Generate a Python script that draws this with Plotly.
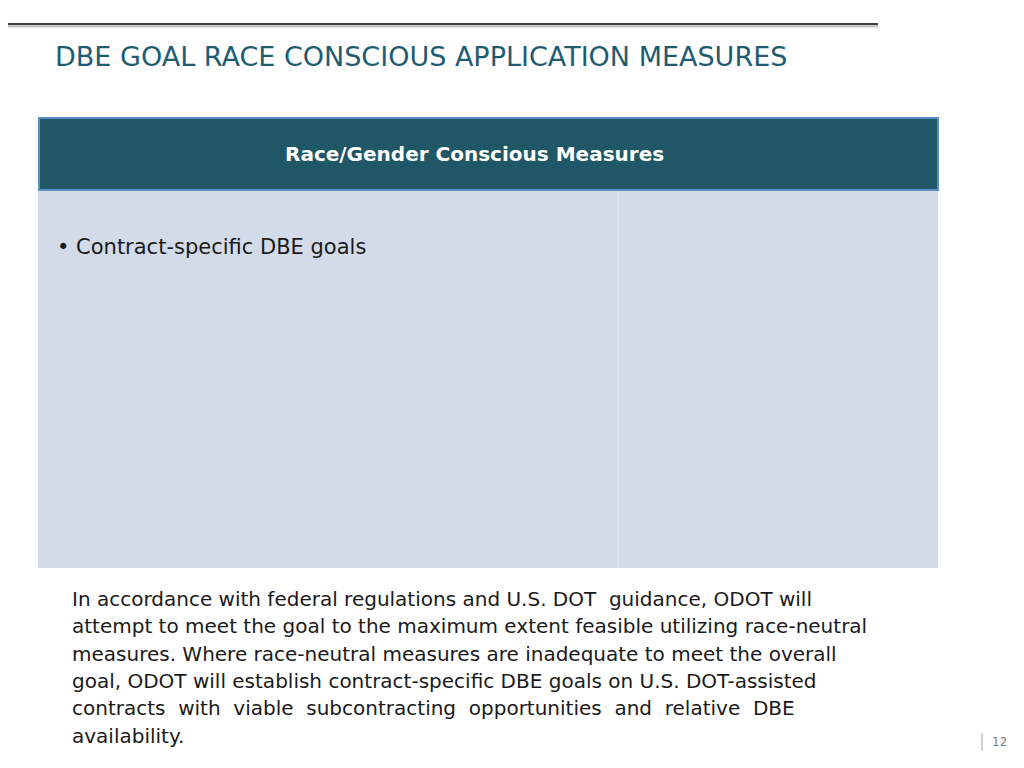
import plotly.graph_objects as go

# slide content
title = "DBE GOAL RACE CONSCIOUS APPLICATION MEASURES"
header = "Race/Gender Conscious Measures"
bullets = ["Contract-specific DBE goals"]
paragraph_lines = [
    "In accordance with federal regulations and U.S. DOT  guidance, ODOT will",
    "attempt to meet the goal to the maximum extent feasible utilizing race-neutral",
    "measures. Where race-neutral measures are inadequate to meet the overall",
    "goal, ODOT will establish contract-specific DBE goals on U.S. DOT-assisted",
    "contracts  with  viable  subcontracting  opportunities  and  relative  DBE",
    "availability.",
]
page_number = "12"

# the page renders with an 8px body offset, so draw in shifted coordinates
dx, dy = -8, -8

fig = go.Figure()
fig.add_trace(go.Scatter(x=[0], y=[0], mode="markers", marker=dict(opacity=0), hoverinfo="skip"))

shapes = [
    dict(type="line", x0=0 + dx, x1=878 + dx, y0=26 + dy, y1=26 + dy, line=dict(color="#C8C8C8", width=3)),
    dict(type="line", x0=0 + dx, x1=878 + dx, y0=24 + dy, y1=24 + dy, line=dict(color="#404040", width=2)),
    dict(type="rect", x0=38 + dx, x1=938 + dx, y0=188 + dy, y1=568 + dy, fillcolor="#D3DBE9", line=dict(width=0)),
    dict(type="line", x0=618 + dx, x1=618 + dx, y0=190 + dy, y1=568 + dy, line=dict(color="#D9E0EC", width=2)),
    dict(type="rect", x0=39 + dx, x1=938 + dx, y0=118 + dy, y1=190 + dy, fillcolor="#1F5767",
         line=dict(color="#5B8FC4", width=2)),
    dict(type="line", x0=982 + dx, x1=982 + dx, y0=733 + dy, y1=751 + dy, line=dict(color="#A0A0A0", width=1)),
]

ann = [
    dict(x=53 + dx, y=56 + dy, text=title, xanchor="left", yanchor="middle", showarrow=False,
         font=dict(family="DejaVu Sans", size=27, color="#1F5C72")),
    dict(x=474 + dx, y=154 + dy, text="<b>" + header + "</b>", xanchor="center", yanchor="middle",
         showarrow=False, font=dict(family="DejaVu Sans", size=20, color="white")),
    dict(x=990 + dx, y=742 + dy, text=page_number, xanchor="left", yanchor="middle", showarrow=False,
         font=dict(family="DejaVu Sans", size=12, color="#808080")),
]
for i, b in enumerate(bullets):
    ann.append(dict(x=55 + dx, y=247 + dy + i * 34, text="• " + b, xanchor="left", yanchor="middle",
                    showarrow=False, font=dict(family="DejaVu Sans", size=21, color="#1A1A1A")))
for i, line in enumerate(paragraph_lines):
    ann.append(dict(x=70 + dx, y=599 + dy + i * 27.3, text=line, xanchor="left", yanchor="middle",
                    showarrow=False, font=dict(family="DejaVu Sans", size=20, color="#1A1A1A")))

fig.update_layout(
    width=1024, height=768, margin=dict(l=0, r=0, t=0, b=0),
    paper_bgcolor="white", plot_bgcolor="white", showlegend=False,
    xaxis=dict(range=[0, 1024], visible=False, fixedrange=True),
    yaxis=dict(range=[768, 0], visible=False, fixedrange=True),
    shapes=shapes, annotations=ann,
)
fig.write_html("out.html")
